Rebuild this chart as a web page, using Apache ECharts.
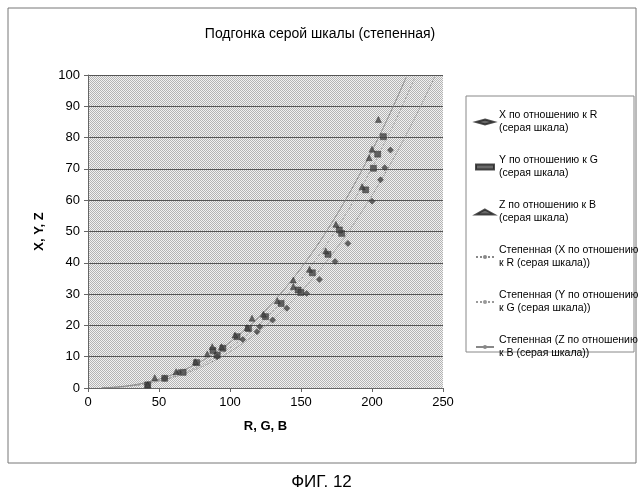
<!DOCTYPE html><html><head><meta charset="utf-8">
<script src="https://cdn.jsdelivr.net/npm/echarts@6/dist/echarts.min.js"></script>
<style>body{margin:0;background:#fff}#c{width:643px;height:500px}</style></head><body><div id="c"></div>
<script>
const xR=[[213,76],[209,70.4],[206,66.5],[200,59.7],[183,46.2],[174,40.4],[163,34.7],[154,30.2],[140,25.5],[130,21.7],[121,19.6],[119,18],[109,15.5],[91,10],[64,5],[54,3.1],[42,1]];
const yG=[[208,80.3],[204,74.7],[201,70.2],[195.5,63.3],[178.6,49.4],[177,50.5],[169,42.7],[158,36.8],[148,31.3],[150,30.5],[136,27],[125,22.8],[113,19],[105,16.4],[95,12.7],[91,10.5],[88,12],[76.5,8.1],[67,5],[54,3.1],[42,1]];
const zB=[[204.5,85.8],[200,76.3],[198,73.6],[193,64.3],[174.6,52.3],[167.4,43.8],[156,37.9],[144.6,34.5],[144.6,32.4],[133.3,27.9],[123.5,23.6],[115.5,22.3],[112,19.3],[103.5,16.9],[94,13.2],[87.5,13.2],[84,10.9],[75.6,8.4],[62,5.2],[47,3.3],[42,1]];
const names=['X по отношению к R\n(серая шкала)','Y по отношению к G\n(серая шкала)','Z по отношению к B\n(серая шкала)','Степенная (X по отношению\nк R (серая шкала))','Степенная (Y по отношению\nк G (серая шкала))','Степенная (Z по отношению\nк B (серая шкала))'];
function powerFit(pts){let n=pts.length,sx=0,sy=0,sxx=0,sxy=0;pts.forEach(([x,y])=>{const lx=Math.log(x),ly=Math.log(y);sx+=lx;sy+=ly;sxx+=lx*lx;sxy+=lx*ly});const b=(n*sxy-sx*sy)/(n*sxx-sx*sx),a=Math.exp((sy-b*sx)/n);const out=[];for(let x=10;x<=250;x+=2){const y=a*Math.pow(x,b);if(y>100)break;out.push([x,y]);}return out;}
const cv=document.createElement('canvas');cv.width=2;cv.height=2;const g=cv.getContext('2d');g.fillStyle='#f2f2f2';g.fillRect(0,0,2,2);g.fillStyle='#b4b4b4';g.fillRect(0,0,1,1);g.fillRect(1,1,1,1);
const ch=echarts.init(document.getElementById('c'));
const sc=(d,n,sym)=>({type:'scatter',name:n,data:d,symbol:sym,symbolSize:6,itemStyle:{color:'#444',borderColor:'#222',borderWidth:0.5},z:3});
const ln=(d,n,t,c)=>({type:'line',name:n,data:powerFit(d),showSymbol:false,symbol:'none',smooth:true,itemStyle:{color:c},lineStyle:{color:c,width:1,type:t},z:2});
ch.setOption({animation:false,
title:{text:'Подгонка серой шкалы (степенная)',left:315,textAlign:'center',top:22,textStyle:{fontFamily:'Liberation Sans',fontSize:14,fontWeight:'normal',color:'#000'}},
graphic:[{type:'rect',shape:{x:8,y:8,width:628,height:455},style:{fill:'none',stroke:'#777',lineWidth:1}},
{type:'rect',shape:{x:466,y:96,width:168,height:256},style:{fill:'#fff',stroke:'#888',lineWidth:1},z:-1},
{type:'text',left:'center',top:474,style:{text:'ФИГ. 12',font:'17px Liberation Sans',fill:'#000'}}],
grid:{left:88,top:75,width:355,height:313,show:true,backgroundColor:{image:cv,repeat:'repeat'},borderWidth:0},
xAxis:{type:'value',min:0,max:250,interval:50,name:'R, G, B',nameLocation:'middle',nameGap:32,nameTextStyle:{fontFamily:'Liberation Sans',fontWeight:'bold',fontSize:13,color:'#000'},axisLine:{lineStyle:{color:'#666'}},axisTick:{show:true,length:4},axisLabel:{color:'#000',fontFamily:'Liberation Sans',fontSize:13},splitLine:{show:false}},
yAxis:{type:'value',min:0,max:100,interval:10,name:'X, Y, Z',nameLocation:'middle',nameGap:42,nameTextStyle:{fontFamily:'Liberation Sans',fontWeight:'bold',fontSize:13,color:'#000'},axisLine:{show:true,lineStyle:{color:'#666'}},axisTick:{show:true,length:4},axisLabel:{color:'#000',fontFamily:'Liberation Sans',fontSize:13},splitLine:{lineStyle:{color:'#555',width:1}}},
legend:{orient:'vertical',left:470,top:104,itemGap:19,itemWidth:18,itemHeight:5,textStyle:{fontFamily:'Liberation Sans',fontSize:10.5,color:'#000',lineHeight:13},data:names},
series:[sc(xR,names[0],'diamond'),sc(yG,names[1],'rect'),sc(zB,names[2],'triangle'),ln(xR,names[3],'dotted','#888'),ln(yG,names[4],[2,2],'#999'),ln(zB,names[5],'solid','#888')]});
</script></body></html>
